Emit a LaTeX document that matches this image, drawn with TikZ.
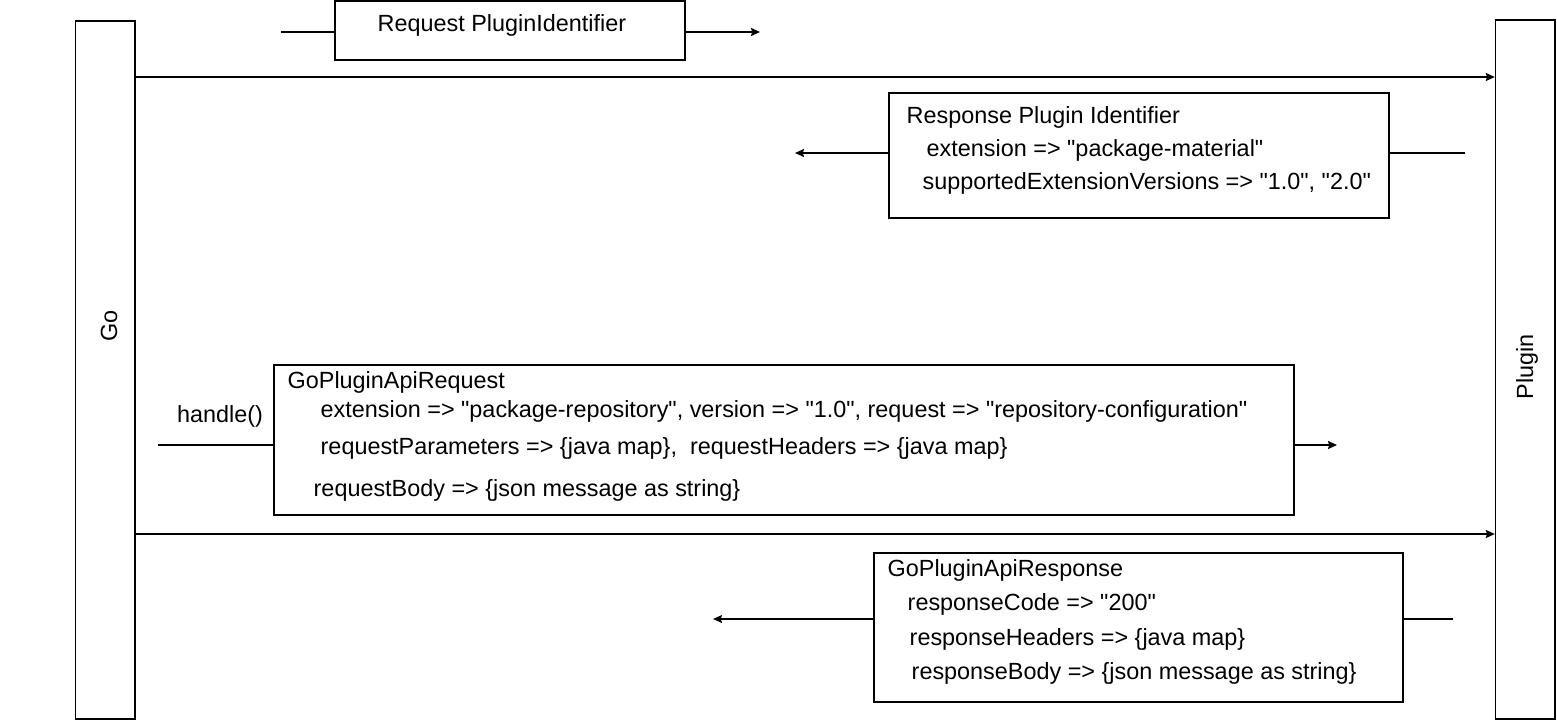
\documentclass[tikz,border=0pt]{standalone}
\usepackage{fontspec}
\setmainfont{Liberation Sans}[Ligatures=TeXOff]
\usetikzlibrary{arrows.meta}
\begin{document}
\begin{tikzpicture}[x=0.5pt,y=-0.5pt,line width=0.7pt,
  box/.style={rectangle, fill=none, draw=black, inner sep=0pt},
  txt/.style={anchor=west, inner sep=0pt, font=\fontsize{11.7}{14}\selectfont},
  msg/.style={-{Stealth[length=4.5pt,width=4pt,inset=0.6pt]}}]
\useasboundingbox (0,0) rectangle (1557,724);
% lifelines
\node [box, minimum width=29.75pt, minimum height=349pt] (go) at (105.25,370) {};
\node [box, minimum width=29.75pt, minimum height=349.5pt] (plugin) at (1525.25,369.5) {};
\node [txt, anchor=center, rotate=90] (golabel) at (109,326) {Go};
\node [txt, anchor=center, rotate=90] (pluginlabel) at (1527,367) {Plugin};
% message boxes
\node [box, minimum width=175pt, minimum height=29.5pt] (reqid) at (510,30.5) {};
\node [box, minimum width=250pt, minimum height=62.5pt] (respid) at (1139,155.5) {};
\node [box, minimum width=510pt, minimum height=75pt] (apireq) at (784,440) {};
\node [box, minimum width=264.5pt, minimum height=74.5pt] (apiresp) at (1138.5,627.5) {};
% texts
\node [txt] (reqidt) at (377,25) {Request PluginIdentifier};
\node [txt] (respidt1) at (906,117) {Response Plugin Identifier};
\node [txt] (respidt2) at (926,150) {extension => "package-material"};
\node [txt] (respidt3) at (922,183) {supportedExtensionVersions => "1.0", "2.0"};
\node [txt] (apireqt1) at (287,382) {GoPluginApiRequest};
\node [txt] (apireqt2) at (320,411) {extension => "package-repository", version => "1.0", request => "repository-configuration"};
\node [txt] (apireqt3) at (320,448) {requestParameters => \{java map\},\ \ requestHeaders => \{java map\}};
\node [txt] (apireqt4) at (313,490) {requestBody => \{json message as string\}};
\node [txt] (apirespt1) at (887,570) {GoPluginApiResponse};
\node [txt] (apirespt2) at (907,604) {responseCode => "200"};
\node [txt] (apirespt3) at (909,639) {responseHeaders => \{java map\}};
\node [txt] (apirespt4) at (911,673) {responseBody => \{json message as string\}};
\node [txt, anchor=center] (handle) at (220,416) {handle()};
% connectors
\coordinate (reqin) at (281,32);
\coordinate (reqout) at (760,32);
\coordinate (call1) at (0,77);
\coordinate (respin) at (1465,153);
\coordinate (respout) at (795,153);
\coordinate (handlein) at (158,445);
\coordinate (handleout) at (1337,445);
\coordinate (call2) at (0,534);
\coordinate (retin) at (1453,619);
\coordinate (retout) at (713,619);
\draw (reqin) -- (reqin -| reqid.west);
\draw [msg] (reqin -| reqid.east) -- (reqout);
\draw [msg] (call1 -| go.east) -- (call1 -| plugin.west);
\draw (respin) -- (respin -| respid.east);
\draw [msg] (respin -| respid.west) -- (respout);
\draw (handlein) -- (handlein -| apireq.west);
\draw [msg] (handlein -| apireq.east) -- (handleout);
\draw [msg] (call2 -| go.east) -- (call2 -| plugin.west);
\draw (retin) -- (retin -| apiresp.east);
\draw [msg] (retin -| apiresp.west) -- (retout);
\end{tikzpicture}
\end{document}
